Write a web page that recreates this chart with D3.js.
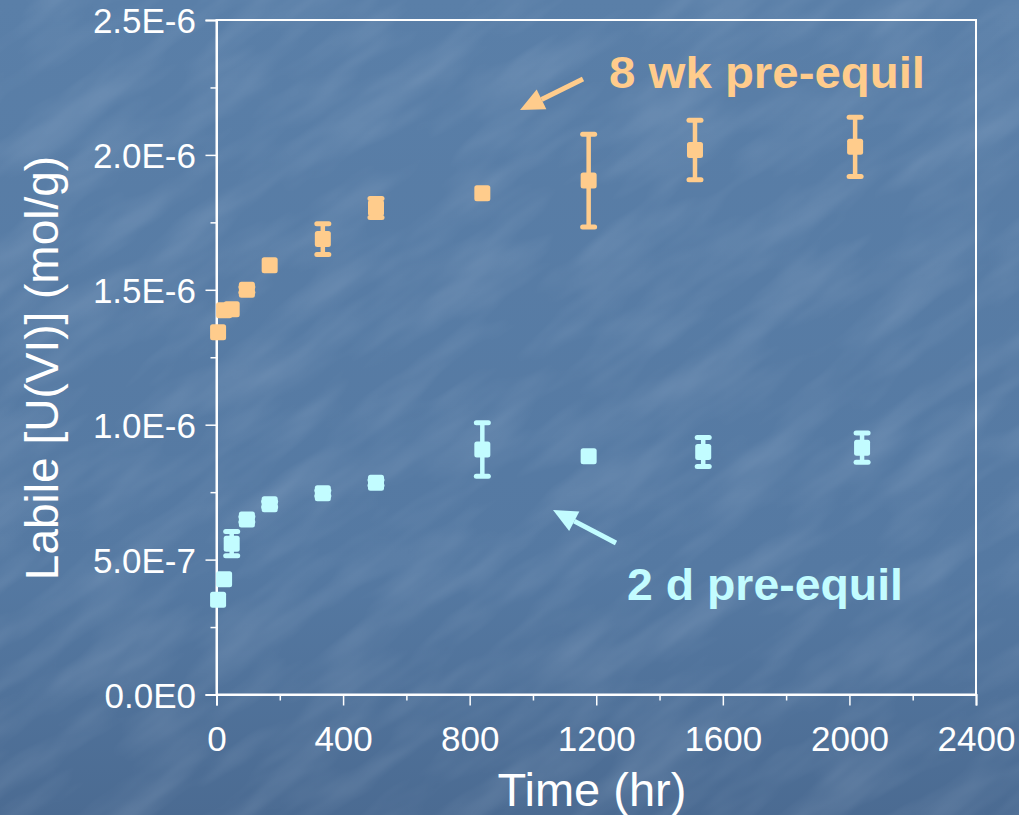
<!DOCTYPE html>
<html>
<head>
<meta charset="utf-8">
<script src="https://cdn.jsdelivr.net/npm/d3@7"></script>
<style>
  html, body { margin: 0; padding: 0; background: #557aa2; }
  svg { display: block; }
</style>
</head>
<body>
<svg id="chart" width="1019" height="815"></svg>
<script>
// Labile U(VI) release over time for two pre-equilibration periods
const hours8wk  = [5, 24, 48, 96, 168, 336, 504, 840, 1176, 1512, 2018];
const values8wk = [1.343e-6, 1.424e-6, 1.428e-6, 1.500e-6, 1.591e-6, 1.688e-6, 1.803e-6, 1.858e-6, 1.905e-6, 2.018e-6, 2.030e-6];
const errors8wk = [0, 0, 0, 0.010e-6, 0, 0.057e-6, 0.035e-6, 0, 0.172e-6, 0.110e-6, 0.110e-6];

const hours2d  = [5, 24, 48, 96, 168, 336, 504, 840, 1176, 1538, 2040];
const values2d = [0.351e-6, 0.427e-6, 0.559e-6, 0.649e-6, 0.705e-6, 0.746e-6, 0.785e-6, 0.908e-6, 0.883e-6, 0.899e-6, 0.915e-6];
const errors2d = [0, 0, 0.045e-6, 0.010e-6, 0.010e-6, 0.010e-6, 0.010e-6, 0.099e-6, 0, 0.054e-6, 0.054e-6];

const xTicks = [0, 400, 800, 1200, 1600, 2000, 2400];
const yTicks = [0, 0.5e-6, 1.0e-6, 1.5e-6, 2.0e-6, 2.5e-6];
const yTickLabels = ["0.0E0", "5.0E-7", "1.0E-6", "1.5E-6", "2.0E-6", "2.5E-6"];

const svg = d3.select("#chart");
const W = 1019, H = 815;
const plotLeft = 216.5, plotRight = 976, plotTop = 20, plotBottom = 694.5;

// Textured blue backdrop
const defs = svg.append("defs");
const grad = defs.append("linearGradient").attr("id", "bg").attr("x1", 0).attr("y1", 0).attr("x2", 0).attr("y2", 1);
grad.append("stop").attr("offset", "0%").attr("stop-color", "#5a7fa8");
grad.append("stop").attr("offset", "70%").attr("stop-color", "#5579a2");
grad.append("stop").attr("offset", "100%").attr("stop-color", "#4b6b92");
const tex = defs.append("filter").attr("id", "tex").attr("x", 0).attr("y", 0).attr("width", "100%").attr("height", "100%");
tex.append("feTurbulence").attr("type", "fractalNoise").attr("baseFrequency", "0.008 0.03").attr("numOctaves", 3).attr("seed", 11).attr("result", "n");
tex.append("feColorMatrix").attr("in", "n").attr("type", "matrix")
  .attr("values", "0 0 0 0 0.72  0 0 0 0 0.82  0 0 0 0 0.95  0 0 0 1.3 -0.5");
svg.append("rect").attr("width", W).attr("height", H).attr("fill", "url(#bg)");
svg.append("rect").attr("x", -300).attr("y", -300).attr("width", W + 600).attr("height", H + 600)
  .attr("filter", "url(#tex)").attr("opacity", 0.2)
  .attr("transform", "rotate(-35 509 407)");

const x = d3.scaleLinear().domain([0, 2400]).range([plotLeft, plotRight]);
const y = d3.scaleLinear().domain([0, 2.5e-6]).range([plotBottom, plotTop]);

const axisColor = "#ffffff";
const font = "'Liberation Sans', Arial, sans-serif";

// Plot frame
svg.append("rect").attr("x", plotLeft).attr("y", plotTop)
  .attr("width", plotRight - plotLeft).attr("height", plotBottom - plotTop)
  .attr("fill", "none").attr("stroke", axisColor).attr("stroke-width", 2);

// X axis: major and minor ticks
const xAxis = svg.append("g").attr("transform", `translate(0,${plotBottom})`)
  .call(d3.axisBottom(x).tickValues(xTicks).tickSize(11).tickFormat(d3.format("d")));
svg.append("g").attr("transform", `translate(0,${plotBottom})`)
  .call(d3.axisBottom(x).tickValues(d3.range(200, 2400, 400)).tickSize(6).tickFormat(""))
  .call(g => g.select(".domain").remove());

// Y axis: major and minor ticks
const yAxis = svg.append("g").attr("transform", `translate(${plotLeft},0)`)
  .call(d3.axisLeft(y).tickValues(yTicks).tickSize(11).tickFormat((d, i) => yTickLabels[i]));
svg.append("g").attr("transform", `translate(${plotLeft},0)`)
  .call(d3.axisLeft(y).tickValues(d3.range(0.25e-6, 2.5e-6, 0.5e-6)).tickSize(6).tickFormat(""))
  .call(g => g.select(".domain").remove());

svg.selectAll(".domain").attr("stroke", axisColor).attr("stroke-width", 2);
svg.selectAll(".tick line").attr("stroke", axisColor).attr("stroke-width", 1.5);
xAxis.selectAll("text").attr("fill", axisColor).attr("font-family", font).attr("font-size", 35)
  .attr("y", 0).attr("dy", 0).attr("transform", "translate(0,56.5)");
yAxis.selectAll("text").attr("fill", axisColor).attr("font-family", font).attr("font-size", 35)
  .attr("x", -20.5).attr("dy", "0.36em");

// Axis titles
svg.append("text").attr("x", 592).attr("y", 806)
  .attr("text-anchor", "middle").attr("fill", axisColor).attr("font-family", font).attr("font-size", 47)
  .text("Time (hr)");
svg.append("text").attr("transform", `translate(58,368) rotate(-90)`)
  .attr("text-anchor", "middle").attr("fill", axisColor).attr("font-family", font).attr("font-size", 46)
  .text("Labile [U(VI)] (mol/g)");

// Series with error bars
function drawSeries(hours, values, errors, color) {
  const data = hours.map((h, i) => ({ h, v: values[i], e: errors[i] }));
  const g = svg.append("g");
  const withErr = data.filter(d => d.e > 0);
  g.selectAll("line.err").data(withErr).join("line").attr("class", "err")
    .attr("x1", d => x(d.h)).attr("x2", d => x(d.h))
    .attr("y1", d => y(d.v + d.e)).attr("y2", d => y(d.v - d.e))
    .attr("stroke", color).attr("stroke-width", 4.5);
  [1, -1].forEach(s => {
    g.selectAll(s > 0 ? "rect.capt" : "rect.capb").data(withErr).join("rect")
      .attr("class", s > 0 ? "capt" : "capb")
      .attr("x", d => x(d.h) - 8.5)
      .attr("y", d => y(d.v + s * d.e) - 2.5)
      .attr("width", 17).attr("height", 5).attr("rx", 2.5)
      .attr("fill", color);
  });
  g.selectAll("rect.pt").data(data).join("rect").attr("class", "pt")
    .attr("x", d => x(d.h) - 8).attr("y", d => y(d.v) - 8)
    .attr("width", 16).attr("height", 16).attr("rx", 2.5)
    .attr("fill", color);
}
const orange = "#ffcc8c";
const cyan = "#c2fcff";
drawSeries(hours8wk, values8wk, errors8wk, orange);
drawSeries(hours2d, values2d, errors2d, cyan);

// Annotations with arrows
function arrow(x1, y1, x2, y2, color) {
  const ang = Math.atan2(y2 - y1, x2 - x1);
  const len = 24, wid = 11;
  const bx = x2 - len * Math.cos(ang), by = y2 - len * Math.sin(ang);
  svg.append("line").attr("x1", x1).attr("y1", y1).attr("x2", bx).attr("y2", by)
    .attr("stroke", color).attr("stroke-width", 5);
  const px = -Math.sin(ang) * wid, py = Math.cos(ang) * wid;
  svg.append("path")
    .attr("d", `M${x2},${y2} L${bx + px},${by + py} L${bx - px},${by - py} Z`)
    .attr("fill", color);
}
arrow(583, 79, 520, 110, orange);
arrow(616, 543, 553, 510, cyan);

svg.append("text").attr("x", 609).attr("y", 88)
  .attr("fill", orange).attr("font-family", font).attr("font-weight", "bold").attr("font-size", 44)
  .attr("textLength", 316).attr("lengthAdjust", "spacingAndGlyphs")
  .text("8 wk pre-equil");
svg.append("text").attr("x", 627).attr("y", 600)
  .attr("fill", cyan).attr("font-family", font).attr("font-weight", "bold").attr("font-size", 44)
  .attr("textLength", 276).attr("lengthAdjust", "spacingAndGlyphs")
  .text("2 d pre-equil");
</script>
</body>
</html>
